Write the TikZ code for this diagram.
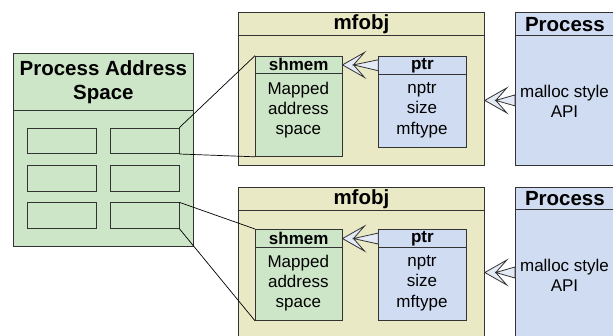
\documentclass[tikz,border=0pt]{standalone}
\usepackage{fontspec}
\setmainfont{Liberation Sans}
\usetikzlibrary{calc}

\definecolor{gr}{HTML}{CEE6C8}
\definecolor{yl}{HTML}{E9E9C6}
\definecolor{bl}{HTML}{D0DCF2}
\definecolor{arrfill}{HTML}{E4EBF7}
\definecolor{edge}{HTML}{333333}

\newcommand\bigfont{\fontsize{20.5}{23.3}\selectfont\bfseries}
\newcommand\smallhdr{\fontsize{17}{20}\selectfont\bfseries}
\newcommand\bodyfont{\fontsize{17}{20.3}\selectfont}

% open arrow with a tapered shaft: #1 = tip, #2 = start of the shaft
\newcommand\fatarrow[2]{%
  \filldraw[fill=arrfill, draw=edge, line width=0.8pt, line join=miter]
    (#1) -- ($(#1)+(22,-12.5)$) -- ($(#1)+(11,0)$) -- ($(#2)+(0,-5.5)$)
    -- ($(#2)+(0,5.5)$) -- ($(#1)+(11,0)$) -- ($(#1)+(22,12.5)$) -- cycle;}

\tikzset{
  box/.style={draw=edge, line width=0.8pt, inner sep=0pt, anchor=north west, align=center},
  slot/.style={box, fill=gr, minimum width=68.5, minimum height=25.5},
  body/.style={inner sep=0pt, align=center, font=\bodyfont},
  conn/.style={draw=black, line width=0.7pt},
}

\begin{document}
\begin{tikzpicture}[x=1pt,y=-1pt]
\useasboundingbox (0,0) rectangle (613,335);
\clip (0,0) rectangle (613,335);

% process address space
\node[box, fill=gr, minimum width=180, minimum height=56.7, font=\bigfont] (pasH) at (13,53.3) {Process Address\\Space};
\node[box, fill=gr, minimum width=180, minimum height=136] (pasB) at (13,110) {};
\foreach \r/\y in {1/127.7, 2/165, 3/202.3} {
  \node[slot] (s\r1) at (27,\y) {};
  \node[slot] (s\r2) at (110,\y) {};
}

% upper mfobj
\node[box, fill=yl, minimum width=246, minimum height=22.7, font=\bigfont] (m1H) at (238,12.3) {mfobj};
\node[box, fill=yl, minimum width=246, minimum height=130] (m1B) at (238,35) {};
\node[box, fill=gr, minimum width=86.7, minimum height=17.6, font=\smallhdr] (sh1H) at (255,55.7) {shmem};
\node[box, fill=gr, minimum width=86.7, minimum height=82.7] (sh1B) at (255,73.3) {};
\node[body] (sh1T) at (298.3,110) {Mapped\\address\\space};
\node[box, fill=bl, minimum width=87.4, minimum height=18.3, font=\smallhdr] (pt1H) at (378.3,55.7) {ptr};
\node[box, fill=bl, minimum width=87.4, minimum height=72.7] (pt1B) at (378.3,74) {};
\node[body] (pt1T) at (422,110) {nptr\\size\\mftype};

% upper process
\node[box, fill=bl, minimum width=99, minimum height=22.7, font=\bigfont] (p1H) at (515,12.3) {Process};
\node[box, fill=bl, minimum width=99, minimum height=130] (p1B) at (515,35) {};
\node[body] (p1T) at (564.5,101) {malloc style\\API};

% lower mfobj
\node[box, fill=yl, minimum width=246, minimum height=23.3, font=\bigfont] (m2H) at (238,186.7) {mfobj};
\node[box, fill=yl, minimum width=246, minimum height=130] (m2B) at (238,210) {};
\node[box, fill=gr, minimum width=86.7, minimum height=18.3, font=\smallhdr] (sh2H) at (255,229) {shmem};
\node[box, fill=gr, minimum width=86.7, minimum height=72.7] (sh2B) at (255,247.3) {};
\node[body] (sh2T) at (298.3,283) {Mapped\\address\\space};
\node[box, fill=bl, minimum width=87.4, minimum height=18.3, font=\smallhdr] (pt2H) at (378.3,229) {ptr};
\node[box, fill=bl, minimum width=87.4, minimum height=72.7] (pt2B) at (378.3,247.3) {};
\node[body] (pt2T) at (422,283) {nptr\\size\\mftype};

% lower process
\node[box, fill=bl, minimum width=99, minimum height=22.6, font=\bigfont] (p2H) at (515,186.7) {Process};
\node[box, fill=bl, minimum width=99, minimum height=130] (p2B) at (515,209.3) {};
\node[body] (p2T) at (564.5,275) {malloc style\\API};

% mapping lines from the address space to shared memory
\draw[conn] (s12.north east) -- (sh1H.north west);
\draw[conn] (s12.south east) -- (sh1B.south west);
\draw[conn] (s32.north east) -- (sh2H.north west);
\draw[conn] (s32.south east) -- (sh2B.south west);

% references
\fatarrow{sh1H.east}{pt1H.west}
\fatarrow{sh2H.east}{pt2H.west}
\coordinate (a1) at (m1B.east |- p1B.west);
\coordinate (a2) at (m2B.east |- 0,272.5);
\coordinate (b2) at (p2B.west |- 0,272.5);
\fatarrow{a1}{p1B.west}
\fatarrow{a2}{b2}
\end{tikzpicture}
\end{document}
